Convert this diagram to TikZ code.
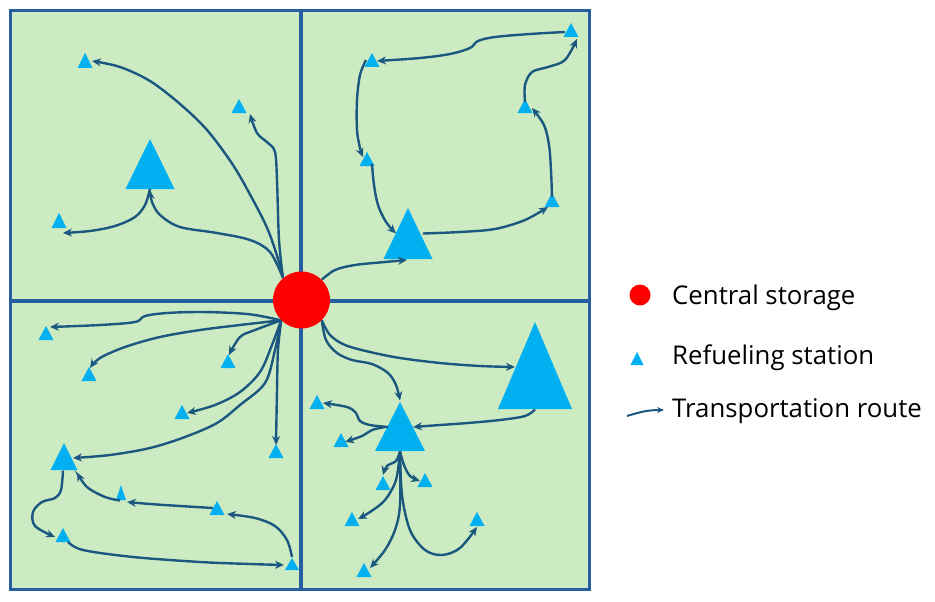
\documentclass[tikz,border=0pt]{standalone}
\usepackage{fontspec}
\setmainfont{Open Sans}
\usetikzlibrary{calc,arrows.meta}
\definecolor{bggreen}{RGB}{205,235,195}
\definecolor{frameblue}{RGB}{38,94,160}
\definecolor{stcol}{RGB}{0,176,240}
\definecolor{routecol}{RGB}{26,88,128}
\tikzset{
  route/.style={draw=routecol, line width=2.4pt, -{Stealth[length=9pt,width=8pt]}},
  smoothroute/.style={route, smooth, tension=0.55},
  legtext/.style={anchor=base west, inner sep=0pt, font=\fontsize{25.8}{30}\selectfont},
}
\newcommand\station[5]{%
  \fill[stcol] (#2-#4/2,#3+#5/2) -- (#2,#3-#5/2) -- (#2+#4/2,#3+#5/2) -- cycle;
  \coordinate (#1) at (#2,#3);}
\begin{document}
\begin{tikzpicture}[x=1pt,y=-1pt]
\useasboundingbox (0,0) rectangle (935,602);
\fill[white] (0,0) rectangle (935,602);
% map
\fill[bggreen] (10.5,10.5) rectangle (589.5,589.5);
\draw[frameblue, line width=3.2pt] (10.5,10.5) rectangle (589.5,589.5);
\draw[frameblue, line width=3.2pt] (301,10.5) -- (301,589.5);
\draw[frameblue, line width=3.2pt] (10.5,301) -- (589.5,301);
% stations TL
\station{a1}{85}{60.5}{15}{15}
\station{a2}{239}{106}{15}{14}
\station{A}{150}{164}{49}{50}
\station{a3}{59}{220.5}{15}{15}
% TR
\station{b1}{571}{30}{15}{14}
\station{b2}{372}{60}{15}{14}
\station{b3}{525}{106}{15}{14}
\station{b4}{367}{159}{15}{14}
\station{b5}{552}{200}{15}{14}
\station{B}{408}{233.5}{49}{51}
% BL
\station{c1}{46}{333}{15}{14}
\station{c2}{89}{374}{15}{14}
\station{c3}{228}{361}{15}{14}
\station{c4}{182}{412}{15}{14}
\station{c5}{276}{451}{15}{14}
\station{C}{64}{456.5}{27}{27}
\station{c6}{121}{492.5}{10}{15}
\station{c7}{217}{508}{15}{14}
\station{c8}{63}{535}{15}{14}
\station{c9}{292}{564}{14}{12}
% BR
\station{D}{535}{365.5}{74}{87}
\station{E}{400}{426.5}{50}{49}
\station{d1}{317}{402}{15}{14}
\station{d2}{341}{440}{15}{14}
\station{d3}{383}{483}{15}{14}
\station{d4}{425}{480}{15}{14}
\station{d5}{352}{519}{15}{14}
\station{d6}{477}{519}{15}{14}
\station{d7}{364}{570}{15}{14}
% central storage (node defined first for anchors, drawn on top later)
\path (301.5,300) node[circle, minimum size=57pt, inner sep=0pt] (S) {};
% routes TL
\draw[smoothroute] plot coordinates {(S.130) (279,262) (268,230) (253,200) (233,165) (207,130) (180,104) (150,81) (120,67) ($(a1)+(7,0.5)$)};
\draw[smoothroute] plot coordinates {(S.130) (279,240) (277,180) (275,152) (268,143) (257,133) ($(a2)+(11,8)$)};
\draw[smoothroute] plot coordinates {(S.130) (270,252) (250,240) (217,233) (180,227) (160,215) (152,202) ($(A)+(0,26)$)};
\draw[smoothroute] plot coordinates {($(A)+(0,25)$) (145,205) (135,217) (115,226) (90,231) ($(a3)+(4,12.5)$)};
% routes TR
\draw[smoothroute] plot coordinates {(S.45) (335,270) (355,265) (385,262) ($(B)+(-1,26.5)$)};
\draw[smoothroute] plot coordinates {($(B)+(15,0)$) (460,232) (495,229) (525,220) ($(b5)+(-4,7)$)};
\draw[smoothroute] plot coordinates {($(b5)+(0,-3)$) (551,170) (549,145) (544,125) ($(b3)+(7,2)$)};
\draw[smoothroute] plot coordinates {($(b3)+(0,-4)$) (525,85) (532,72) (548,67) (565,60) ($(b1)+(6,9)$)};
\draw[smoothroute] plot coordinates {($(b1)+(-6,2)$) (530,34) (495,37) (478,41) (470,48) (450,54) (420,58) ($(b2)+(5,1)$)};
\draw[smoothroute] plot coordinates {($(b2)+(-6,0)$) (360,75) (357,100) (357,130) (360,148) ($(b4)+(-4,-2)$)};
\draw[smoothroute] plot coordinates {($(b4)+(5,5)$) (374,185) (378,205) (386,222) ($(B)+(-12,0)$)};
% routes BL
\draw[smoothroute] plot coordinates {(S.225) (255,315) (233,313) (200,312) (167,313) (145,316) (135,322) (100,325) ($(c1)+(4,-6)$)};
\draw[smoothroute] plot coordinates {(S.225) (240,325) (200,330) (160,337) (125,347) (100,358) ($(c2)+(1,-6)$)};
\draw[smoothroute] plot coordinates {(S.225) (255,330) (240,337) ($(c3)+(1,-6)$)};
\draw[smoothroute] plot coordinates {(S.225) (272,345) (260,372) (240,392) (215,405) ($(c4)+(5,1)$)};
\draw[smoothroute] plot coordinates {(S.225) (275,350) (265,383) (240,405) (217,423) (185,437) (150,448) (110,455) ($(C)+(9,1.5)$)};
\draw[smoothroute] plot coordinates {(S.225) (278,350) (277,390) ($(c5)+(0,-6)$)};
\draw[smoothroute] plot coordinates {($(C)+(-1,14)$) (61,490) (55,498) (42,502) (33,512) (35,526) ($(c8)+(-8,2)$)};
\draw[smoothroute] plot coordinates {($(c8)+(5,7)$) (83,550) (133,557) (200,562) (250,564) ($(c9)+(-8,1)$)};
\draw[smoothroute] plot coordinates {($(c9)+(0,-7)$) (287,540) (275,526) (255,518) ($(c7)+(10,6)$)};
\draw[smoothroute] plot coordinates {($(c7)+(-4,0)$) (180,506) (150,504) ($(c6)+(6,9.5)$)};
\draw[smoothroute] plot coordinates {($(c6)+(-1,8)$) (105,497) (87,487) ($(C)+(13,16)$)};
% routes BR
\draw[smoothroute] plot coordinates {(S.-45) (330,335) (345,345) (370,352) (400,358) (440,363) (480,366) ($(D)+(-20,1.5)$)};
\draw[smoothroute] plot coordinates {(S.-45) (326,340) (337,353) (352,360) (372,364) (388,373) (396,385) ($(E)+(0,-26)$)};
\draw[smoothroute] plot coordinates {($(D)+(0,44)$) (525,416) (500,420) (468,423) (440,425) ($(E)+(13,0.5)$)};
\draw[smoothroute] plot coordinates {($(E)+(-12,0.5)$) (370,425) (360,421) (356,413) (347,407) ($(d1)+(6,1)$)};
\draw[smoothroute] plot coordinates {($(E)+(-15,0.5)$) (372,430) (362,436) ($(d2)+(4,2)$)};
\draw[smoothroute] plot coordinates {($(E)+(0,25)$) (396,461) (387,466) ($(d3)+(0,-8)$)};
\draw[smoothroute] plot coordinates {($(E)+(0,25)$) (404,465) (410,476) ($(d4)+(-5,1)$)};
\draw[smoothroute] plot coordinates {($(E)+(0,25)$) (396,480) (385,500) (370,512) ($(d5)+(6,0)$)};
\draw[smoothroute] plot coordinates {($(E)+(0,25)$) (400,505) (395,530) (385,550) ($(d7)+(6,-2)$)};
\draw[smoothroute] plot coordinates {($(E)+(0,25)$) (402,495) (410,530) (425,550) (442,555) (460,548) ($(d6)+(0,8)$)};
% central storage on top
\fill[red] (S.center) circle (28.5pt);
% legend
\node[circle, fill=red, minimum size=21pt, inner sep=0pt] (lc) at (640,295) {};
\station{lt}{637}{358.5}{13}{13}
\coordinate (l1) at (627,416);
\coordinate (l2) at (664,410);
\draw[route, line width=2pt, -{Stealth[length=7pt,width=6pt]}] (l1) .. controls (640,412) and (648,410) .. (l2);
\node[legtext] (t1) at (672,304) {Central storage};
\node[legtext] (t2) at (672,364) {Refueling station};
\node[legtext] (t3) at (672,417) {Transportation route};
\end{tikzpicture}
\end{document}
